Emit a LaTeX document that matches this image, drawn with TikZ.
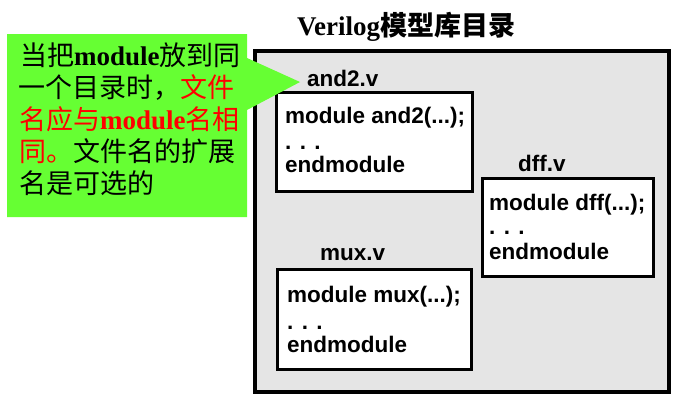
\documentclass[tikz,border=0pt]{standalone}
\usepackage{fontspec}
\setmainfont{Liberation Serif}
\newfontfamily\cjkfont{Noto Sans CJK SC}
\newfontfamily\arialfont{Liberation Sans}
\definecolor{calloutgreen}{RGB}{102,255,51}
\definecolor{dirgray}{RGB}{229,229,229}
\begin{document}
\begin{tikzpicture}[x=1pt,y=-1pt,
  codetext/.style={font=\arialfont\bfseries\fontsize{22.5}{25}\selectfont, inner sep=0pt, anchor=base west},
  notetext/.style={font=\fontsize{27}{32}\selectfont, inner sep=0pt, anchor=base west},
  titletext/.style={font=\bfseries\fontsize{27}{32}\selectfont, inner sep=0pt, anchor=base west},
  filebox/.style={draw=black, line width=3pt, fill=white},
  dirbox/.style={draw=black, line width=4pt, fill=dirgray},
]
\useasboundingbox (0,0) rectangle (674,400);
% directory box
\draw[dirbox] (255,51) rectangle (669,392);
\node[titletext] (title) at (297,35) {Verilog{\cjkfont 模型库目录}};
% file boxes
\draw[filebox] (276.5,92.5) rectangle (472.5,191.5);
\draw[filebox] (482.5,178.5) rectangle (653.5,276.5);
\draw[filebox] (277.5,269.5) rectangle (471.5,369.5);
% labels
\node[codetext] (and2lab) at (307,86) {and2.v};
\node[codetext] (dfflab) at (518,171) {dff.v};
\node[codetext] (muxlab) at (320,260) {mux.v};
% and2 content
\node[codetext] (a1) at (285,123) {module and2(...);};
\node[codetext] (a2) at (285,149) {. . .};
\node[codetext] (a3) at (285,172) {endmodule};
% dff content
\node[codetext] (d1) at (489,210) {module dff(...);};
\node[codetext] (d2) at (489,234) {. . .};
\node[codetext] (d3) at (489,259) {endmodule};
% mux content
\node[codetext] (m1) at (287,302) {module mux(...);};
\node[codetext] (m2) at (287,329) {. . .};
\node[codetext] (m3) at (287,352) {endmodule};
% callout
\fill[calloutgreen] (7,34) -- (247,34) -- (247,58) -- (300,82) -- (247,110) -- (247,217) -- (7,217) -- cycle;
\node[notetext] (n1) at (20,65) {{\cjkfont 当把}\textbf{module}{\cjkfont 放到同}};
\node[notetext] (n2) at (18,97) {{\cjkfont 一个目录时，}\textcolor{red}{\cjkfont 文件}};
\node[notetext, text=red] (n3) at (19,129) {{\cjkfont 名应与}\textbf{module}{\cjkfont 名相}};
\node[notetext] (n4) at (19,161) {\textcolor{red}{\cjkfont 同。}{\cjkfont 文件名的扩展}};
\node[notetext] (n5) at (19,193) {{\cjkfont 名是可选的}};
\end{tikzpicture}
\end{document}
